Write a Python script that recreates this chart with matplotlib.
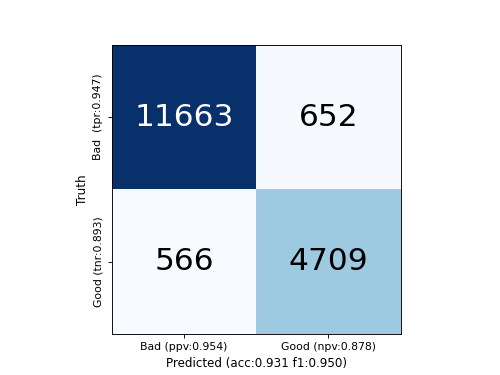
import numpy as np
import matplotlib
matplotlib.use("Agg")
import matplotlib.pyplot as plt

# --- dati della matrice di confusione ---
classi = ["Bad", "Good"]
matrice = np.array([[11663, 652],
                    [566, 4709]])
etichette_x = ["Bad (ppv:0.954)", "Good (npv:0.878)"]
etichette_y = ["Bad  (tpr:0.947)", "Good (tnr:0.893)"]
titolo_x = "Predicted (acc:0.931 f1:0.950)"
titolo_y = "Truth"

fig, ax = plt.subplots(figsize=(5, 3.75), dpi=100)
ax.imshow(matrice, cmap="Blues", interpolation="nearest")

soglia = matrice.max() / 2
for i in range(matrice.shape[0]):
    for j in range(matrice.shape[1]):
        colore = "white" if matrice[i, j] > soglia else "black"
        ax.text(j, i, str(matrice[i, j]), ha="center", va="center",
                fontsize=22.5, color=colore)

ax.set_xticks(range(len(classi)))
ax.set_xticklabels(etichette_x, fontsize=7.8)
ax.set_yticks(range(len(classi)))
ax.set_yticklabels(etichette_y, fontsize=7.8, rotation=90, va="center")
ax.set_xlabel(titolo_x, fontsize=8.6, labelpad=3)
ax.set_ylabel(titolo_y, fontsize=8.6, labelpad=3)
ax.tick_params(length=2.8, width=0.65)
for s in ax.spines.values():
    s.set_linewidth(0.65)

fig.savefig("out.png", dpi=100)
